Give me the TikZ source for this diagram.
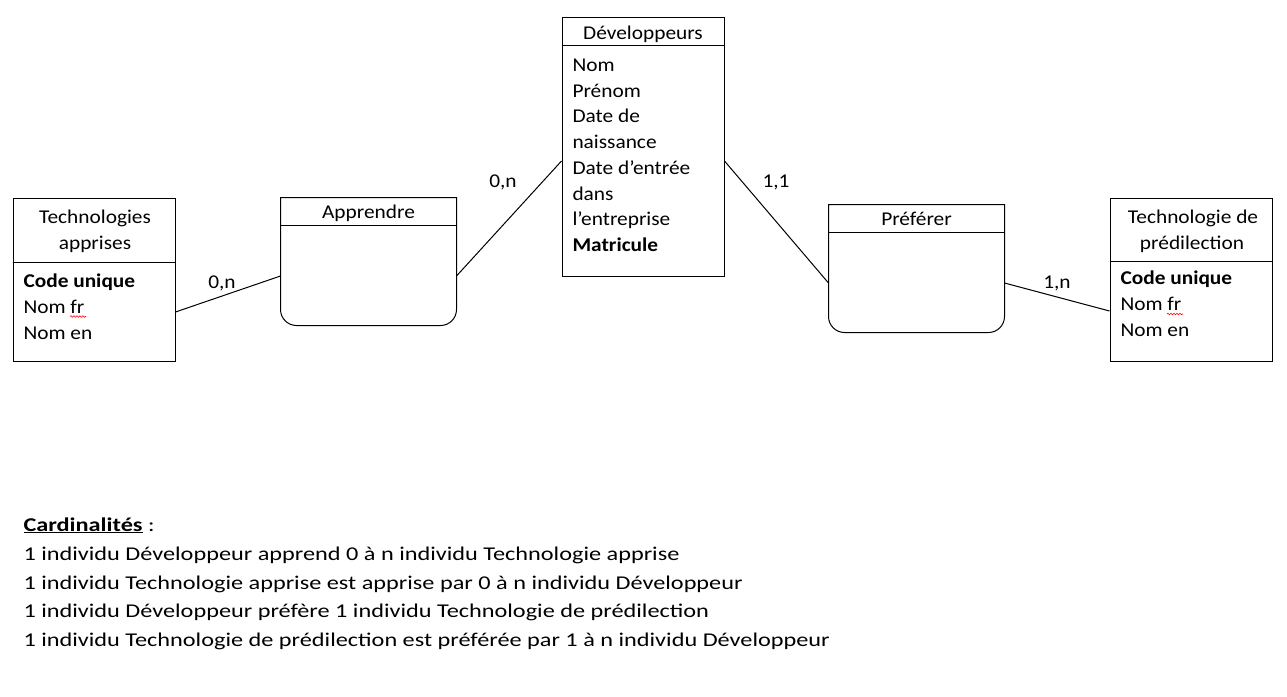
\documentclass[tikz,border=0pt]{standalone}
\usepackage{fontspec}
\setmainfont{Carlito}
\newfontfamily\boxfont[FakeStretch=1.095]{Carlito}
\newfontfamily\botfont[FakeStretch=1.245]{Carlito}
\usetikzlibrary{decorations.pathmorphing}
\begin{document}
\begin{tikzpicture}[x=1pt,y=-1pt,line width=1pt,
  box/.style={draw,inner sep=0pt,minimum width=162pt,minimum height=163pt},
  rel/.style={inner sep=0pt,minimum width=175pt,minimum height=127pt},
  txt/.style={inner sep=0pt,anchor=base west,font=\boxfont\fontsize{19.5pt}{26pt}\selectfont},
  bot/.style={inner sep=0pt,anchor=base west,font=\botfont\fontsize{19.5pt}{26pt}\selectfont},
  ttl/.style={inner sep=0pt,anchor=base,font=\boxfont\fontsize{19.5pt}{26pt}\selectfont},
  card/.style={inner sep=0pt,anchor=base,font=\boxfont\fontsize{19.5pt}{26pt}\selectfont},
  link/.style={line width=1pt},
  squig/.style={red,line width=0.6pt,decorate,decoration={snake,segment length=3pt,amplitude=0.8pt}}]
\path[use as bounding box] (0,0) rectangle (1287,696);

% Technologies apprises
\node[box] (ta) at (94,279.5) {};
\draw (ta.north west) ++(0,65) coordinate (tas) -- (tas -| ta.east);
\node[ttl] (tat1) at (95,223) {Technologies};
\node[ttl] (tat2) at (95,249) {apprises};
\node[txt] (ta1) at (23,287) {\textbf{Code unique}};
\node[txt] (ta2) at (23,313) {Nom fr};
\node[txt] (ta3) at (23,339) {Nom en};
\draw[squig] (70,316.5) -- (86,316.5);

% Apprendre
\node[rel] (ap) at (368.5,261.5) {};
\draw (ap.north west) -- (ap.north east) -- ([yshift=16pt]ap.south east)
  arc[start angle=0,end angle=-90,radius=16pt] -- ([xshift=16pt]ap.south west)
  arc[start angle=270,end angle=180,radius=16pt] -- cycle;
\draw (ap.north west) ++(0,28) coordinate (aps) -- (aps -| ap.east);
\node[ttl] (apt) at (368.5,218.5) {Apprendre};

% Developpeurs
\node[box,minimum height=259pt] (dev) at (643,146.5) {};
\draw (dev.north west) ++(0,29) coordinate (devs) -- (devs -| dev.east);
\node[ttl] (devt) at (643,39) {Développeurs};
\foreach \t [count=\i from 0] in {Nom,Prénom,Date de,naissance,Date d’entrée,dans,l’entreprise,\textbf{Matricule}}
  \node[txt] (dev\i) at (572,{71.5+25.7*\i}) {\t};

% Preferer
\node[rel] (pr) at (916.5,268.5) {};
\draw (pr.north west) -- (pr.north east) -- ([yshift=16pt]pr.south east)
  arc[start angle=0,end angle=-90,radius=16pt] -- ([xshift=16pt]pr.south west)
  arc[start angle=270,end angle=180,radius=16pt] -- cycle;
\draw (pr.north west) ++(0,28) coordinate (prs) -- (prs -| pr.east);
\node[ttl] (prt) at (916.5,225.5) {Préférer};

% Technologie de predilection
\node[box] (tp) at (1191,279.5) {};
\draw (tp.north west) ++(0,64) coordinate (tps) -- (tps -| tp.east);
\node[ttl] (tpt1) at (1193,223) {Technologie de};
\node[ttl] (tpt2) at (1192,249.5) {prédilection};
\node[txt] (tp1) at (1120,284.5) {\textbf{Code unique}};
\node[txt] (tp2) at (1120,310.5) {Nom fr};
\node[txt] (tp3) at (1120,336.5) {Nom en};
\draw[squig] (1167,314) -- (1183,314);

% connectors
\draw[link] ([yshift=-32.5pt]ta.east) -- ([yshift=-14.5pt]ap.west);
\draw[link] ([yshift=-14.5pt]ap.east) -- ([yshift=-14.5pt]dev.west);
\draw[link] ([yshift=-14.5pt]dev.east) -- ([yshift=-14.5pt]pr.west);
\draw[link] ([yshift=-14.5pt]pr.east) -- ([yshift=-31.5pt]tp.west);

\node[card] (c1) at (222,288) {0,n};
\node[card] (c2) at (503,187) {0,n};
\node[card] (c3) at (776,187) {1,1};
\node[card] (c4) at (1057,288) {1,n};

% cardinalites text
\node[bot] (l0) at (23,531) {\underline{\textbf{Cardinalités}} :};
\node[bot] (l1) at (23,560) {1 individu Développeur apprend 0 à n individu Technologie apprise};
\node[bot] (l2) at (23,589) {1 individu Technologie apprise est apprise par 0 à n individu Développeur};
\node[bot] (l3) at (23,617.5) {1 individu Développeur préfère 1 individu Technologie de prédilection};
\node[bot] (l4) at (23,646) {1 individu Technologie de prédilection est préférée par 1 à n individu Développeur};
\end{tikzpicture}
\end{document}
